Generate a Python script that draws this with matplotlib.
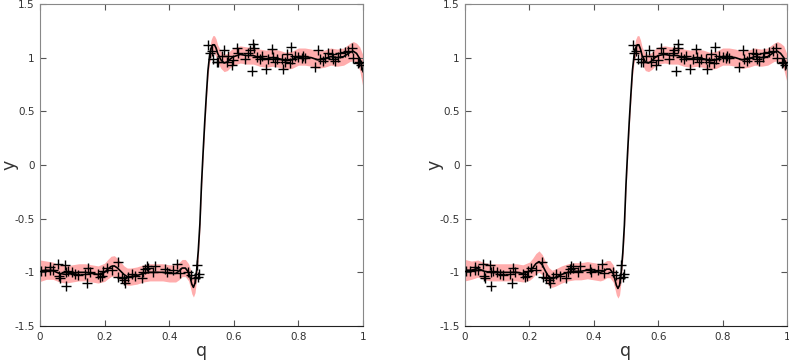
import numpy as np
import matplotlib
matplotlib.use("Agg")
import matplotlib.pyplot as plt
from matplotlib.ticker import FormatStrFormatter

# observed points (same in both panels)
q_obs = [0.002, 0.015, 0.03, 0.04, 0.032, 0.057, 0.06, 0.063, 0.077, 0.08, 0.082,
         0.088, 0.098, 0.108, 0.119, 0.139, 0.146, 0.15, 0.155, 0.181, 0.186, 0.191,
         0.196, 0.206, 0.222, 0.24, 0.243, 0.253, 0.26, 0.263, 0.273, 0.284, 0.294,
         0.315, 0.32, 0.325, 0.33, 0.335, 0.351, 0.356, 0.387, 0.392, 0.413, 0.425,
         0.433, 0.459, 0.469, 0.48, 0.485, 0.49, 0.493,
         0.521, 0.526, 0.531, 0.537, 0.547, 0.552, 0.562, 0.57, 0.578, 0.583, 0.593,
         0.598, 0.609, 0.614, 0.635, 0.645, 0.65, 0.655, 0.66, 0.662, 0.671, 0.681,
         0.686, 0.7, 0.707, 0.717, 0.72, 0.728, 0.733, 0.748, 0.753, 0.758, 0.764,
         0.774, 0.776, 0.779, 0.789, 0.8, 0.81, 0.815, 0.82, 0.851, 0.862, 0.867,
         0.875, 0.882, 0.893, 0.903, 0.908, 0.913, 0.924, 0.929, 0.944, 0.955, 0.965,
         0.97, 0.986, 0.989, 0.993]
y_obs = [-0.985, -0.985, -0.98, -0.975, -0.95, -0.92, -1.03, -1.05, -0.93, -1.13, -0.995,
         -0.985, -1.0, -1.02, -1.025, -1.02, -1.1, -0.96, -1.0, -1.02, -1.045, -1.03,
         -0.99, -0.96, -0.98, -0.9, -1.04, -1.05, -1.075, -1.1, -1.04, -1.02, -1.03,
         -1.05, -1.0, -0.97, -0.94, -0.955, -1.0, -0.94, -0.97, -1.0, -0.98, -0.92,
         -1.01, -1.0, -1.025, -1.055, -0.93, -1.04, -1.02,
         1.12, 1.04, 1.065, 0.99, 0.96, 0.96, 1.02, 1.07, 0.96, 1.02, 0.93,
         0.98, 1.09, 1.04, 0.99, 1.04, 1.07, 0.88, 1.13, 1.09, 1.01, 0.99,
         1.02, 0.89, 0.99, 1.08, 1.01, 0.96, 0.99, 0.99, 0.89, 0.96, 1.03,
         0.95, 1.1, 0.99, 1.02, 1.01, 1.0, 1.02, 1.0, 0.91, 1.07, 0.99,
         0.97, 1.0, 1.04, 1.03, 0.99, 0.97, 1.01, 1.04, 1.05, 1.06, 1.09,
         1.0, 0.95, 0.96, 0.93]

# fitted curves
q_fit = [0.0, 0.02, 0.04, 0.06, 0.08, 0.10, 0.12, 0.14, 0.16, 0.18,
         0.20, 0.21, 0.22, 0.23, 0.24, 0.25, 0.26, 0.27, 0.28, 0.30,
         0.32, 0.34, 0.36, 0.38, 0.40, 0.42, 0.43, 0.44, 0.45, 0.46,
         0.465, 0.47, 0.475, 0.48, 0.485, 0.49, 0.495, 0.50, 0.505, 0.51,
         0.515, 0.52, 0.525, 0.53, 0.535, 0.54, 0.545, 0.55, 0.56, 0.57,
         0.58, 0.59, 0.60, 0.62, 0.64, 0.66, 0.68, 0.70, 0.72, 0.74,
         0.76, 0.78, 0.80, 0.82, 0.84, 0.86, 0.88, 0.90, 0.92, 0.94,
         0.96, 0.97, 0.98, 0.99, 1.0]

mean_left = [-0.985, -0.98, -0.985, -1.01, -1.02, -1.01, -1.0, -1.0, -1.01, -1.02,
             -1.0, -0.97, -0.945, -0.94, -0.96, -0.99, -1.02, -1.04, -1.04, -1.03,
             -1.01, -1.0, -1.0, -1.0, -1.01, -1.01, -0.99, -0.96, -0.96, -1.0,
             -1.05, -1.11, -1.14, -1.1, -0.98, -0.8, -0.55, -0.18, 0.12, 0.4,
             0.65, 0.88, 1.02, 1.09, 1.12, 1.12, 1.09, 1.04, 0.98, 0.95,
             0.96, 0.99, 1.01, 1.03, 1.02, 1.02, 1.0, 0.99, 1.0, 0.99,
             0.97, 0.98, 1.01, 1.01, 1.0, 0.98, 0.99, 1.01, 1.0, 1.01,
             1.05, 1.06, 1.04, 0.99, 0.87]
sd_left = [0.1, 0.085, 0.08, 0.08, 0.08, 0.08, 0.08, 0.08, 0.08, 0.08,
           0.085, 0.09, 0.095, 0.095, 0.09, 0.085, 0.08, 0.08, 0.08, 0.08,
           0.08, 0.08, 0.08, 0.08, 0.08, 0.08, 0.08, 0.08, 0.08, 0.08,
           0.085, 0.09, 0.09, 0.09, 0.08, 0.07, 0.06, 0.06, 0.06, 0.06,
           0.06, 0.06, 0.07, 0.08, 0.085, 0.085, 0.085, 0.08, 0.08, 0.08,
           0.08, 0.08, 0.08, 0.08, 0.08, 0.08, 0.08, 0.08, 0.08, 0.08,
           0.08, 0.08, 0.08, 0.08, 0.08, 0.08, 0.08, 0.08, 0.08, 0.08,
           0.085, 0.09, 0.095, 0.11, 0.15]

mean_right = [-0.98, -0.98, -0.965, -0.99, -1.0, -1.0, -1.0, -1.0, -1.0, -1.01,
              -0.99, -0.96, -0.92, -0.9, -0.93, -0.99, -1.04, -1.06, -1.05, -1.02,
              -1.0, -0.99, -0.99, -0.98, -0.99, -1.0, -0.99, -0.97, -0.97, -1.01,
              -1.06, -1.12, -1.15, -1.12, -1.0, -0.82, -0.56, -0.18, 0.12, 0.4,
              0.65, 0.88, 1.02, 1.09, 1.12, 1.12, 1.08, 1.02, 0.96, 0.95,
              0.97, 1.0, 1.02, 1.03, 1.02, 1.02, 1.0, 0.99, 1.0, 0.99,
              0.97, 0.98, 1.01, 1.01, 1.0, 0.98, 0.99, 1.01, 1.0, 1.01,
              1.05, 1.06, 1.04, 1.0, 0.9]
sd_right = [0.1, 0.085, 0.08, 0.08, 0.08, 0.08, 0.08, 0.08, 0.08, 0.08,
            0.085, 0.09, 0.095, 0.1, 0.095, 0.09, 0.085, 0.08, 0.08, 0.08,
            0.08, 0.08, 0.08, 0.08, 0.08, 0.08, 0.08, 0.08, 0.08, 0.08,
            0.085, 0.09, 0.09, 0.09, 0.08, 0.07, 0.06, 0.06, 0.06, 0.06,
            0.06, 0.06, 0.07, 0.08, 0.085, 0.085, 0.085, 0.08, 0.08, 0.08,
            0.08, 0.08, 0.08, 0.08, 0.08, 0.08, 0.08, 0.08, 0.08, 0.08,
            0.08, 0.08, 0.08, 0.08, 0.08, 0.08, 0.08, 0.08, 0.08, 0.08,
            0.085, 0.09, 0.095, 0.11, 0.13]

x_ticks = [0, 0.2, 0.4, 0.6, 0.8, 1]
y_ticks = [-1.5, -1, -0.5, 0, 0.5, 1, 1.5]


def draw_panel(ax, mean, sd):
    q = np.array(q_fit)
    m = np.array(mean)
    s = np.array(sd)
    ax.fill_between(q, m - s, m + s, color="#ffadad", lw=0, zorder=1)
    ax.plot(q, m, color="black", lw=1.2, zorder=2)
    ax.plot(q_obs, y_obs, "+", color="black", ms=7, mew=1.0, zorder=3)

    ax.set_xlim(0, 1)
    ax.set_ylim(-1.5, 1.5)
    ax.set_xticks(x_ticks)
    ax.set_yticks(y_ticks)
    ax.xaxis.set_major_formatter(FormatStrFormatter("%g"))
    ax.yaxis.set_major_formatter(FormatStrFormatter("%g"))
    ax.tick_params(direction="in", length=4, width=0.8, top=True, right=True,
                   labelsize=7.5, labelcolor="#333333", color="#555555", pad=4)
    for side in ["left", "top", "right"]:
        ax.spines[side].set_color("#888888")
    ax.spines["bottom"].set_color("#222222")
    ax.set_xlabel("q", fontsize=12.5, color="#333333")
    ax.set_ylabel("y", fontsize=12.5, color="#333333")
    ax.xaxis.set_label_coords(0.5, -0.05)
    ax.yaxis.set_label_coords(-0.068, 0.5)


fig = plt.figure(figsize=(7.89, 3.64), dpi=100)
ax1 = fig.add_axes([40 / 789, 38 / 364, 323 / 789, 322 / 364])
ax2 = fig.add_axes([465 / 789, 38 / 364, 322 / 789, 322 / 364])

draw_panel(ax1, mean_left, sd_left)
draw_panel(ax2, mean_right, sd_right)

fig.savefig("out.png", dpi=100)
